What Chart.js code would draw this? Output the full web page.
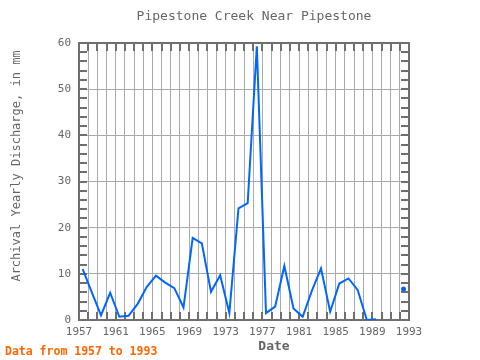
<!DOCTYPE html>
<html>
<head>
<meta charset="utf-8">
<script src="https://cdn.jsdelivr.net/npm/chart.js@4.4.0/dist/chart.umd.min.js"></script>
<style>
  html, body { margin: 0; padding: 0; background: #ffffff; }
</style>
</head>
<body>
<canvas id="chart" width="480" height="360"></canvas>
<script>
// yearly values (mm), 1990-91 missing
const years = [1957, 1958, 1959, 1960, 1961, 1962, 1963, 1964, 1965, 1966,
               1967, 1968, 1969, 1970, 1971, 1972, 1973, 1974, 1975, 1976,
               1977, 1978, 1979, 1980, 1981, 1982, 1983, 1984, 1985, 1986,
               1987, 1988, 1989, 1990, 1991, 1992];
const discharge = [11.0, 6.0, 1.0, 5.9, 0.7, 0.9, 3.5, 7.2, 9.6, 8.1,
                   6.9, 2.7, 17.8, 16.6, 6.1, 9.7, 1.5, 24.2, 25.3, 59.3,
                   1.5, 2.9, 11.7, 2.5, 0.7, 6.3, 11.2, 1.8, 7.9, 9.0,
                   6.5, 0.0, 0.15, null, null, 6.7];
const xTickLabels = ['1957', '1961', '1965', '1969', '1973', '1977', '1981', '1985', '1989', '1993'];
const yTickLabels = [0, 10, 20, 30, 40, 50, 60];

const monoFont = '"DejaVu Sans Mono", "Liberation Mono", monospace';
const frameColor = '#6e6e6e';
const textColor = '#666666';

// points sit a bit into each year on the date axis
const yearShift = 0.4;
const points = years.map((yr, i) => ({ x: yr + yearShift, y: discharge[i] }));

// frame, inward ticks and the loose text
const decorations = {
    id: 'decorations',
    beforeDatasetsDraw(chart) {
        const { ctx, chartArea: a, scales: { x, y } } = chart;
        ctx.save();
        ctx.strokeStyle = frameColor;
        ctx.lineWidth = 2;
        ctx.beginPath();
        for (let yr = x.min; yr <= x.max; yr++) {
            const px = Math.round(x.getPixelForValue(yr));
            ctx.moveTo(px, a.top); ctx.lineTo(px, a.top + 8);
            ctx.moveTo(px, a.bottom); ctx.lineTo(px, a.bottom - 8);
        }
        for (let v = y.min; v <= y.max; v += 2) {
            const py = Math.round(y.getPixelForValue(v));
            ctx.moveTo(a.left, py); ctx.lineTo(a.left + 8, py);
            ctx.moveTo(a.right, py); ctx.lineTo(a.right - 8, py);
        }
        ctx.stroke();
        ctx.strokeRect(a.left, a.top, a.right - a.left, a.bottom - a.top);
        ctx.restore();
    },
    afterDraw(chart) {
        const { ctx } = chart;
        ctx.save();
        ctx.textBaseline = 'middle';
        ctx.textAlign = 'center';
        ctx.fillStyle = textColor;
        ctx.font = '13px ' + monoFont;
        ctx.fillText('Pipestone Creek Near Pipestone', 254, 17);

        ctx.font = 'bold 13px ' + monoFont;
        ctx.fillText('Date', 274, 347);

        ctx.save();
        ctx.translate(17, 166);
        ctx.rotate(-Math.PI / 2);
        ctx.font = '12px ' + monoFont;
        ctx.fillText('Archival Yearly Discharge, in mm', 0, 0);
        ctx.restore();

        ctx.textAlign = 'left';
        ctx.fillStyle = '#ff6600';
        ctx.font = 'bold 11.5px ' + monoFont;
        ctx.fillText('Data from 1957 to 1993', 5, 352);
        ctx.restore();
    }
};

const chart = new Chart(document.getElementById('chart').getContext('2d'), {
    type: 'line',
    data: {
        datasets: [{
            label: 'Discharge',
            data: points,
            borderColor: '#0066ff',
            backgroundColor: '#0066ff',
            borderWidth: 2,
            tension: 0,
            spanGaps: false,
            // only a lone value (no neighbours) gets a dot
            pointRadius: (c) => {
                const i = c.dataIndex;
                const prev = discharge[i - 1], next = discharge[i + 1];
                return (prev == null && next == null) ? 2.5 : 0;
            },
            pointBorderWidth: 0
        }]
    },
    options: {
        responsive: false,
        animation: false,
        devicePixelRatio: 1,
        layout: { padding: { left: 0, right: 71, top: 43, bottom: 0 } },
        plugins: {
            legend: { display: false },
            title: { display: false },
            tooltip: { enabled: false }
        },
        scales: {
            x: {
                type: 'linear',
                min: 1957,
                max: 1993,
                afterFit: (scale) => { scale.height = 40; },
                border: { display: false },
                grid: { color: '#aaaaaa', lineWidth: 1, drawTicks: false },
                ticks: {
                    stepSize: 1,
                    autoSkip: false,
                    maxRotation: 0,
                    padding: 6,
                    color: textColor,
                    font: { family: monoFont, size: 11 },
                    callback: (v) => xTickLabels.includes(String(v)) ? String(v) : ''
                }
            },
            y: {
                min: 0,
                max: 60,
                afterFit: (scale) => { scale.width = 79; },
                border: { display: false },
                grid: { color: '#aaaaaa', lineWidth: 1, drawTicks: false },
                ticks: {
                    stepSize: 10,
                    padding: 8,
                    color: textColor,
                    font: { family: monoFont, size: 11 },
                    callback: (v) => yTickLabels.includes(v) ? String(v) : ''
                }
            }
        }
    },
    plugins: [decorations]
});
</script>
</body>
</html>
